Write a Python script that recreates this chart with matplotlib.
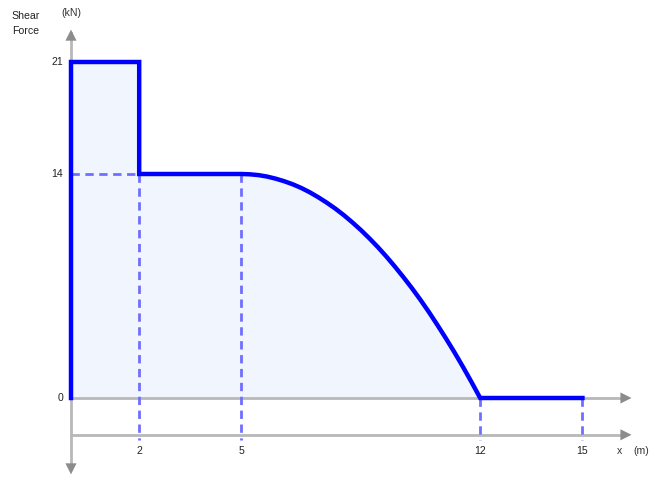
import matplotlib
matplotlib.use('Agg')
import matplotlib.pyplot as plt

plt.rcParams['font.family'] = ['Liberation Sans', 'DejaVu Sans']

# shear force diagram values (kN)
x_pts = [0, 0, 2, 2, 5, 5.25, 5.5, 5.75, 6, 6.25, 6.5, 6.75, 7, 7.25, 7.5, 7.75, 8,
         8.25, 8.5, 8.75, 9, 9.25, 9.5, 9.75, 10, 10.25, 10.5, 10.75, 11, 11.25,
         11.5, 11.75, 12, 15]
v_pts = [0, 21, 21, 14, 14, 13.98, 13.93, 13.84, 13.71, 13.55, 13.36, 13.13, 12.86,
         12.55, 12.21, 11.84, 11.43, 10.98, 10.5, 9.98, 9.43, 8.84, 8.21, 7.55, 6.86,
         6.13, 5.36, 4.55, 3.71, 2.84, 1.93, 0.98, 0, 0]
x_ticks = [2, 5, 12, 15]
y_ticks = [0, 14, 21]

fig = plt.figure(figsize=(6.66, 4.91), dpi=100)
ax = fig.add_axes([0, 0, 1, 1])
ax.set_xlim(-2.082, 17.45)
ax.set_ylim(-5.8125, 24.875)
ax.axis('off')

gray = '#b8b8b8'
arrow_c = '#8c8c8c'

# axes lines with arrows
ax.plot([0, 0], [-4.3, 22.8], color=gray, lw=2, zorder=1)
ax.annotate('', xy=(0, 23.2), xytext=(0, 22.0),
            arrowprops=dict(arrowstyle='-|>', color=arrow_c, lw=0, mutation_scale=20))
ax.annotate('', xy=(0, -4.95), xytext=(0, -3.75),
            arrowprops=dict(arrowstyle='-|>', color=arrow_c, lw=0, mutation_scale=20))
for yl in [0, -2.3]:
    ax.plot([0, 16.1], [yl, yl], color=gray, lw=2, zorder=1)
    ax.annotate('', xy=(16.52, yl), xytext=(15.8, yl),
                arrowprops=dict(arrowstyle='-|>', color=arrow_c, lw=0, mutation_scale=20))

# dashed guide lines
dash = dict(color='#6f6fff', lw=2, ls=(0, (3, 2)), zorder=2)
ax.plot([0, 2], [14, 14], **dash)
ax.plot([2, 2], [14, -2.65], **dash)
ax.plot([5, 5], [14, -2.65], **dash)
ax.plot([12, 12], [0, -2.65], **dash)
ax.plot([15, 15], [0, -2.65], **dash)

# diagram
ax.fill_between(x_pts, v_pts, 0, color='#f1f6fe', zorder=0)
ax.plot(x_pts, v_pts, color='#0000ff', lw=3.2, solid_joinstyle='miter', zorder=3)

# labels
fs = 7.6
for t in x_ticks:
    ax.text(t, -3.3, str(t), ha='center', va='center', fontsize=fs, color='#222222')
for t in y_ticks:
    ax.text(-0.23, t, str(t), ha='right', va='center', fontsize=fs, color='#222222')
ax.text(16.1, -3.3, 'x', ha='center', va='center', fontsize=fs, color='#333333')
ax.text(16.72, -3.3, '(m)', ha='center', va='center', fontsize=fs, color='#333333')
ax.text(-1.76, 23.88, 'Shear', ha='left', va='center', fontsize=fs, color='#222222')
ax.text(-1.72, 22.94, 'Force', ha='left', va='center', fontsize=fs, color='#222222')
ax.text(0.02, 24.06, '(kN)', ha='center', va='center', fontsize=fs, color='#333333')

fig.savefig('out.png', dpi=100)
